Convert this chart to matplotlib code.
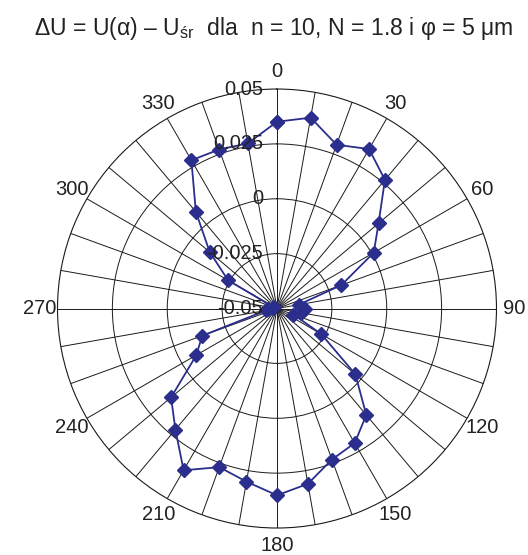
import numpy as np
import matplotlib
matplotlib.use("Agg")
import matplotlib.pyplot as plt
import matplotlib.transforms as mtransforms

plt.rcParams['font.family'] = ['Liberation Sans', 'DejaVu Sans']
plt.rcParams['mathtext.fontset'] = 'custom'
plt.rcParams['mathtext.rm'] = 'Liberation Sans'

# angle [deg] and deviation dU from the mean
angles = [0, 10, 20, 30, 40, 50, 60, 70, 80, 90, 100, 110,
          120, 130, 140, 150, 160, 170, 180, 190, 200, 210, 220, 230,
          240, 250, 260, 270, 280, 290, 300, 310, 320, 330, 340, 350]
dU = [0.0351, 0.0383, 0.0294, 0.0339, 0.0265, 0.0104, 0.0009, -0.0188,
      -0.0400, -0.0372, -0.0390, -0.0420,
      -0.0267, -0.0034, 0.0133, 0.0208, 0.0232, 0.0311, 0.0351, 0.0301,
      0.0269, 0.0351, 0.0220, 0.0130,
      -0.0076, -0.0137, -0.0450, -0.0460, -0.0480, -0.0485, -0.0243, -0.0100,
      0.0075, 0.0280, 0.0271, 0.0264]

r_ticks = [-0.05, -0.025, 0, 0.025, 0.05]
r_labels = ['-0.05', '-0.025', '0', '0.025', '0.05']
label_angles = [0, 30, 60, 90, 120, 150, 180, 210, 240, 270, 300, 330]

line_col = '#2B2E8C'
grid_col = '#1a1a1a'

fig = plt.figure(figsize=(5.28, 5.55), dpi=100)
ax = fig.add_axes([0.1089, 0.0486, 0.8314, 0.791], projection='polar')
ax.set_theta_zero_location('N')
ax.set_theta_direction(-1)
ax.set_ylim(-0.05, 0.05)

# spokes every 10 deg, rings at the radial ticks
ax.set_xticks(np.radians(np.arange(0, 360, 10)))
ax.set_xticklabels([])
ax.set_yticks(r_ticks[1:-1])
ax.set_yticklabels([])
ax.grid(True, color=grid_col, lw=0.7)
ax.spines['polar'].set_color(grid_col)
ax.spines['polar'].set_linewidth(0.8)
ax.tick_params(length=0)

th = np.radians(angles + [angles[0]])
rr = dU + [dU[0]]
ax.plot(th, rr, color=line_col, lw=1.3, marker='D', ms=6.8,
        mec=line_col, mfc=line_col, zorder=5)

# angle labels
for a in label_angles:
    ax.text(np.radians(a), 0.0581, str(a), ha='center', va='center',
            fontsize=14.5, color='#222222', clip_on=False)

# radial value labels along the 0 deg spoke
offs = mtransforms.offset_copy(ax.transData, fig=fig, x=-14, y=0, units='dots')
for v, s in zip(r_ticks, r_labels):
    ax.text(0, v, s, transform=offs, ha='right', va='center',
            fontsize=14.5, color='#222222', zorder=6)

fig.text(274 / 528, 1 - 29 / 555,
         r'ΔU = U(α) – U$_{\mathregular{śr}}$  dla  n = 10, N = 1.8 i φ = 5 μm',
         ha='center', va='center', fontsize=16.6, color='#222222')

fig.savefig('out.png', dpi=100, facecolor='white')
